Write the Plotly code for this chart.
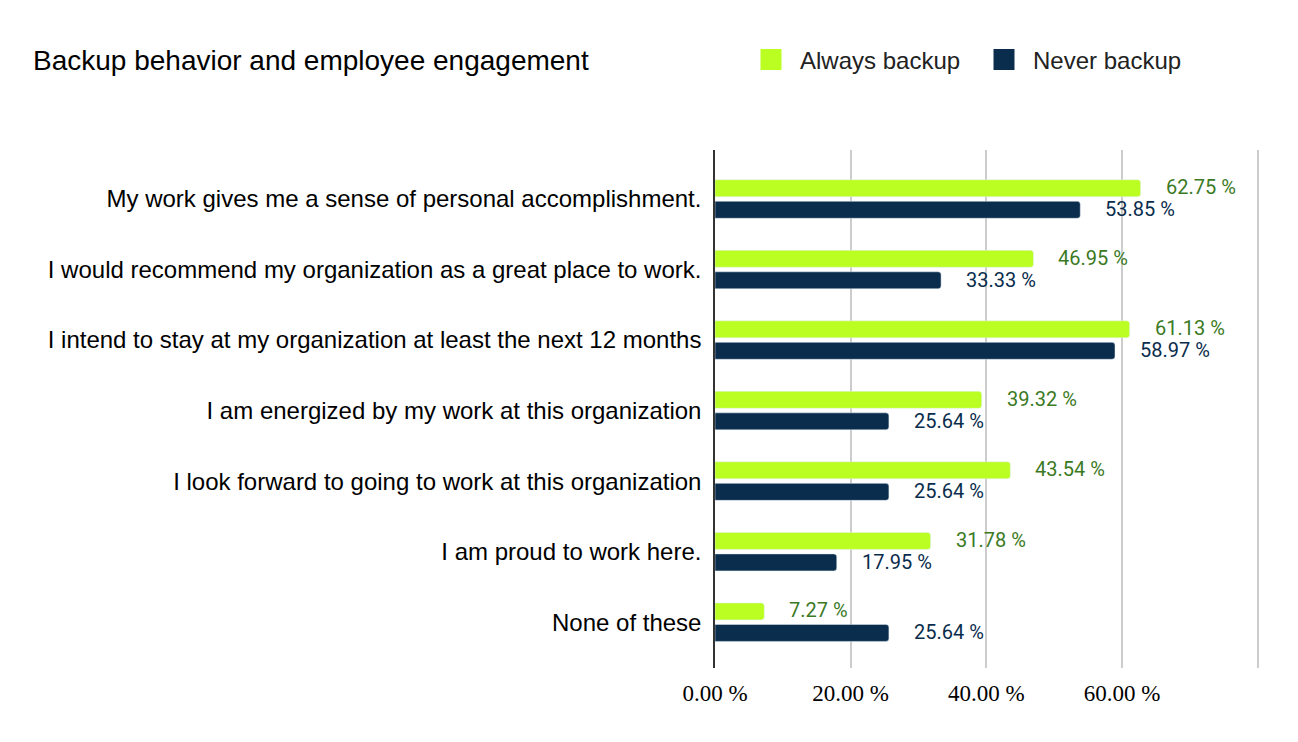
import plotly.graph_objects as go

categories = [
    "My work gives me a sense of personal accomplishment.",
    "I would recommend my organization as a great place to work.",
    "I intend to stay at my organization at least the next 12 months",
    "I am energized by my work at this organization",
    "I look forward to going to work at this organization",
    "I am proud to work here.",
    "None of these",
]
always_backup = [62.75, 46.95, 61.13, 39.32, 43.54, 31.78, 7.27]
never_backup = [53.85, 33.33, 58.97, 25.64, 25.64, 17.95, 25.64]
x_tickvals = [0, 20, 40, 60, 80]
x_ticktext = ["0.00 %", "20.00 %", "40.00 %", "60.00 %", ""]

GREEN = "#bbff22"
NAVY = "#0a2d4d"
GREEN_TXT = "#3b7a1f"
NAVY_TXT = "#0a2d4d"

# page body has an 8px margin, so the figure is 8px smaller than the window
W, H = 1290, 734

fig = go.Figure()
fig.add_trace(go.Bar(y=categories, x=always_backup, orientation="h", name="Always backup",
                     marker=dict(color=GREEN, cornerradius=3), showlegend=False))
fig.add_trace(go.Bar(y=categories, x=never_backup, orientation="h", name="Never backup",
                     marker=dict(color=NAVY, cornerradius=3), showlegend=False))
# legend swatches
for nm, col in [("Always backup", GREEN), ("Never backup", NAVY)]:
    fig.add_trace(go.Scatter(x=[None], y=[None], mode="markers", name=nm,
                             marker=dict(symbol="square", size=16, color=col,
                                         line=dict(color=col, width=5))))

for vals, col, ys in [(always_backup, GREEN_TXT, 12), (never_backup, NAVY_TXT, -10)]:
    for c, v in zip(categories, vals):
        fig.add_annotation(x=v, y=c, text=f"{v:.2f} %", showarrow=False, xanchor="left",
                           xshift=23, yshift=ys, font=dict(family="Roboto", size=20, color=col))

fig.update_layout(
    width=W, height=H,
    margin=dict(l=707, r=39, t=142, b=74),
    paper_bgcolor="white", plot_bgcolor="white",
    barmode="group", bargap=0.39, bargroupgap=0.21,
    font=dict(family="Liberation Sans, Arial", color="#000"),
    title=dict(text="Backup behavior and employee engagement", x=25/W, xanchor="left",
               y=1-52/H, yanchor="middle", xref="container", yref="container",
               font=dict(size=28, color="#000", family="Liberation Sans, Arial")),
    legend=dict(orientation="h", xref="container", yref="container", x=734/W, xanchor="left",
                y=1-52/H, yanchor="middle", font=dict(size=24, color="#222"),
                itemsizing="trace", tracegroupgap=0, itemwidth=48,
                entrywidth=170, entrywidthmode="pixels"),
    xaxis=dict(range=[0, 80.2], tickvals=x_tickvals, ticktext=x_ticktext, showgrid=True,
               gridcolor="#cccccc", gridwidth=1.5, zeroline=False, showline=False,
               tickfont=dict(family="Liberation Serif, Times New Roman", size=23, color="#000"),
               ticks="", ticklabelstandoff=9),
    yaxis=dict(range=[6.65, -0.695], showline=True, linecolor="#333333", linewidth=1.5,
               ticks="", tickfont=dict(size=24, color="#000"), ticklabelstandoff=7),
)
fig.write_html("out.html")
